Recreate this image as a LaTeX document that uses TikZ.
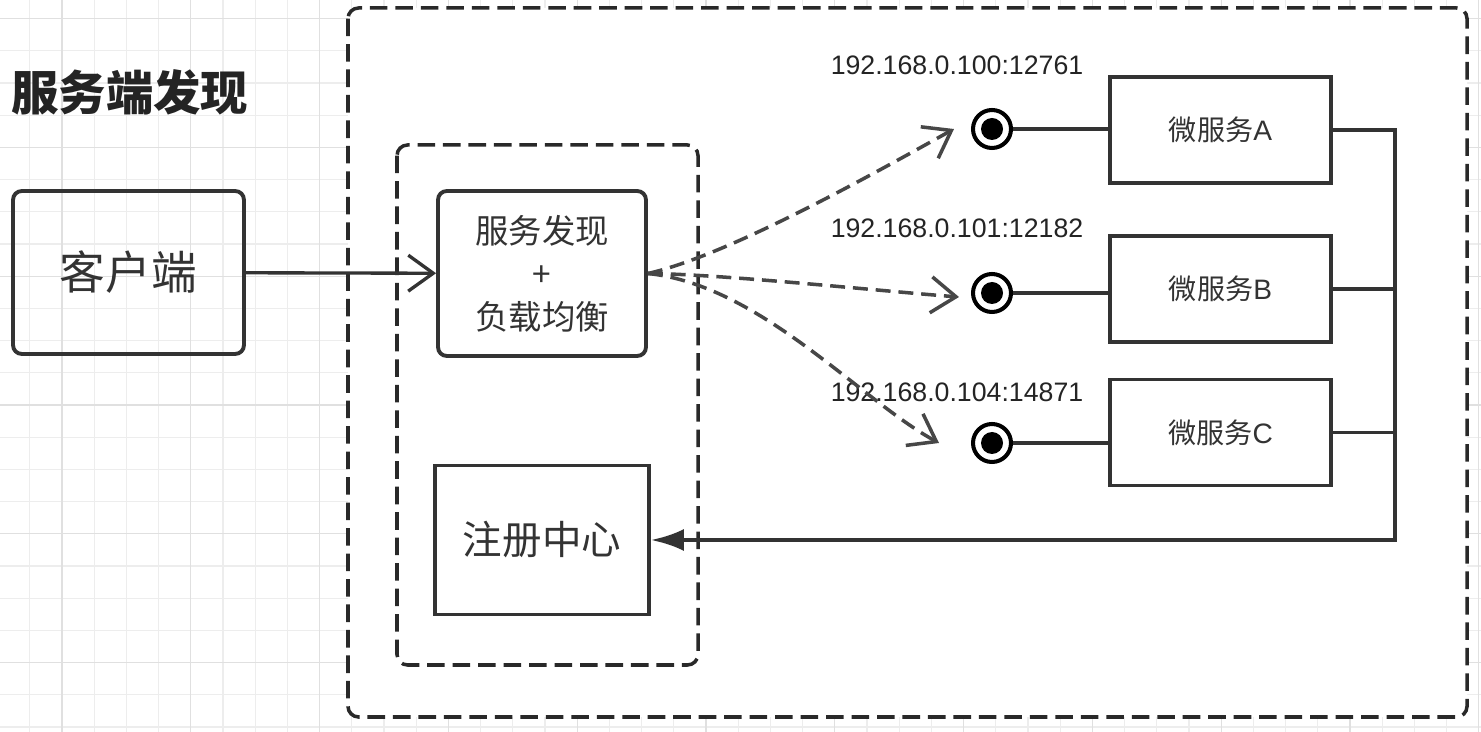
\documentclass[tikz,border=0pt]{standalone}
\usepackage{fontspec}
\setmainfont{Liberation Sans}
\newfontfamily\cjk{Noto Sans CJK SC}
\usepackage{tikz}
\usetikzlibrary{arrows.meta}
\definecolor{ink}{HTML}{333333}
\definecolor{gridminor}{HTML}{EDEDED}
\definecolor{gridmajor}{HTML}{E0E0E0}
\tikzset{
	block/.style    = {draw=ink, line width=2.2pt, rectangle, rounded corners=5pt, text=ink},
	plain/.style    = {draw=ink, line width=2.2pt, rectangle, text=ink},
	service/.style  = {plain, minimum width=4.42cm, minimum height=2.12cm,
		font=\fontsize{16}{19}\selectfont},
	port/.style     = {draw=black, line width=2.3pt, circle, minimum size=0.76cm, inner sep=0pt,
		path picture={\fill[black] (path picture bounding box.center) circle (0.22cm);}},
	group/.style    = {draw=ink!80!black, line width=2pt, dash pattern=on 10pt off 4.5pt, rounded corners=6pt},
	link/.style     = {draw=ink, line width=1.9pt},
	vtip/.style     = {-{Straight Barb[length=0.5cm,width=0.72cm]}},
	call/.style     = {draw=ink!90!white, line width=2pt, dash pattern=on 8.5pt off 4.5pt, vtip}, % lookup
	addr/.style     = {text=ink!70!black, font=\fontsize{15.2}{18}\selectfont} % address
}

\begin{document}
\begin{tikzpicture}[x=0.02cm, y=-0.02cm]
	\useasboundingbox (0,0) rectangle (1481,732);
	% grid
	\begin{scope}
		\clip (0,0) rectangle (1481,732);
		\foreach \i in {0,...,46}
			\draw[gridminor, line width=0.6pt] ({-2.4+32.2*\i},0) -- ({-2.4+32.2*\i},732);
		\foreach \j in {0,...,22}
			\draw[gridminor, line width=0.6pt] (0,{18.6+32.2*\j}) -- (1481,{18.6+32.2*\j});
		\foreach \i in {2,6,...,46}
			\draw[gridmajor, line width=0.7pt] ({-2.4+32.2*\i},0) -- ({-2.4+32.2*\i},732);
		\foreach \j in {0,4,...,20}
			\draw[gridmajor, line width=0.7pt] (0,{18.6+32.2*\j}) -- (1481,{18.6+32.2*\j});
	\end{scope}
	\draw[group, fill=white] (348,8) rectangle (1467,717);
	\draw[group] (397,145) rectangle (698,665);

	\draw
	node at (5,92)[anchor=west, text=ink!70!black, font=\cjk\bfseries\fontsize{27}{32}\selectfont] (title) {服务端发现}
	node at (128.5,272.5)[block, minimum width=4.62cm, minimum height=3.26cm,
		font=\cjk\fontsize{26}{30}\selectfont] (client) {客户端}
	node at (542,273.5)[block, minimum width=4.16cm, minimum height=3.3cm, align=center,
		font=\cjk\fontsize{19}{24.4}\selectfont] (lb) {服务发现\\+\\负载均衡}
	node at (542,540)[plain, minimum width=4.28cm, minimum height=2.98cm,
		font=\cjk\fontsize{22.5}{27}\selectfont] (registry) {注册中心}
	node at (1220.5,130)[service] (svcA) {{\cjk 微服务}A}
	node at (1220.5,289)[service] (svcB) {{\cjk 微服务}B}
	node at (1220.5,432.5)[service] (svcC) {{\cjk 微服务}C}
	node at (992,129)[port] (portA) {}
	node at (992,293)[port] (portB) {}
	node at (992,443)[port] (portC) {}
	node at (957,65)[addr] (ipA) {192.168.0.100:12761}
	node at (957,228)[addr] (ipB) {192.168.0.101:12182}
	node at (957,392)[addr] (ipC) {192.168.0.104:14871};

	\coordinate (hitA) at ([xshift=-0.34cm]portA.west);
	\coordinate (hitB) at ([xshift=-0.24cm,yshift=-0.08cm]portB.west);
	\coordinate (hitC) at ([xshift=-0.64cm]portC.west);
	\coordinate (bus) at (1395,540);

	\draw[link, vtip](client) -- (lb);
	\draw[call](lb.east) .. controls (730,255) and (880,170) .. (hitA);
	\draw[call](lb.east) .. controls (720,274) and (880,291) .. (hitB);
	\draw[call](lb.east) .. controls (760,285) and (860,400) .. (hitC);
	\draw[link](portA) -- (portA -| svcA.west);
	\draw[link](portB) -- (portB -| svcB.west);
	\draw[link](portC) -- (portC -| svcC.west);
	\draw[link](svcB.east) -| (bus);
	\draw[link](svcC.east) -| (bus);
	\draw[link, line width=2.4pt, -{Latex[length=0.66cm,width=0.44cm]}](svcA.east) -| (bus) -- (registry.east);
\end{tikzpicture}
\end{document}
